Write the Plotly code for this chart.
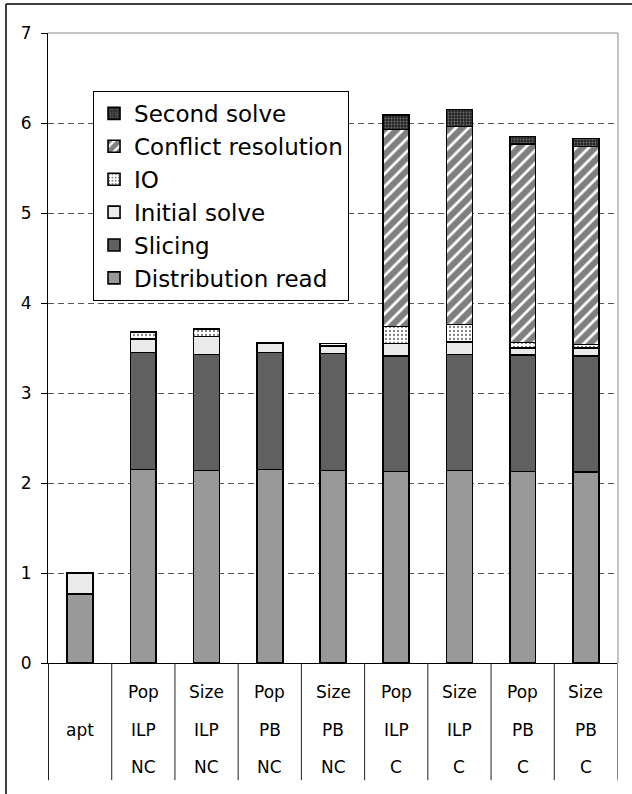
import plotly.graph_objects as go

categories = ["apt", "Pop ILP NC", "Size ILP NC", "Pop PB NC", "Size PB NC",
              "Pop ILP C", "Size ILP C", "Pop PB C", "Size PB C"]
label_row1 = ["", "Pop", "Size", "Pop", "Size", "Pop", "Size", "Pop", "Size"]
label_row2 = ["apt", "ILP", "ILP", "PB", "PB", "ILP", "ILP", "PB", "PB"]
label_row3 = ["", "NC", "NC", "NC", "NC", "C", "C", "C", "C"]

distribution_read = [0.77, 2.15, 2.14, 2.15, 2.14, 2.13, 2.14, 2.13, 2.12]
slicing = [0, 1.30, 1.29, 1.30, 1.30, 1.28, 1.29, 1.29, 1.29]
initial_solve = [0.23, 0.15, 0.20, 0.10, 0.08, 0.14, 0.14, 0.08, 0.09]
io = [0, 0.08, 0.08, 0.01, 0.03, 0.19, 0.19, 0.06, 0.04]
conflict_resolution = [0, 0, 0, 0, 0, 2.19, 2.20, 2.21, 2.20]
second_solve = [0, 0, 0, 0, 0, 0.16, 0.19, 0.08, 0.09]

y_ticks = [0, 1, 2, 3, 4, 5, 6, 7]

FONT = "DejaVu Sans"

series = [
    ("Distribution read", distribution_read, dict(color="#999999")),
    ("Slicing", slicing, dict(color="#606060")),
    ("Initial solve", initial_solve, dict(color="#eaeaea")),
    ("IO", io, dict(color="white",
                    pattern=dict(shape=".", fgcolor="black", bgcolor="white",
                                 size=4, solidity=0.25))),
    ("Conflict resolution", conflict_resolution,
     dict(color="white",
          pattern=dict(shape="/", fgcolor="black", bgcolor="white",
                       size=9, solidity=0.7))),
    ("Second solve", second_solve,
     dict(color="#333333",
          pattern=dict(shape=".", fgcolor="#bbbbbb", bgcolor="#262626",
                       size=3, solidity=0.3))),
]

fig = go.Figure()
for name, vals, mk in series:
    mk = dict(mk)
    mk["line"] = dict(color="black", width=1.6)
    fig.add_trace(go.Bar(x=categories, y=vals, name=name, marker=mk))

annotations = []
for rows, ypos in ((label_row1, -0.046), (label_row2, -0.1063), (label_row3, -0.165)):
    for cat, txt in zip(categories, rows):
        if txt:
            annotations.append(dict(x=cat, y=ypos, xref="x", yref="paper",
                                    text=txt, showarrow=False,
                                    font=dict(family=FONT, size=17, color="black"),
                                    xanchor="center", yanchor="middle"))

shapes = []
# category dividers below the axis
for i in range(len(categories) + 1):
    shapes.append(dict(type="line", xref="x", yref="paper",
                       x0=i - 0.5, x1=i - 0.5, y0=-0.186, y1=0,
                       line=dict(color="#222222" if i < len(categories) else "#888888", width=1)))
# plot area top and right (gray)
shapes.append(dict(type="line", xref="paper", yref="paper", x0=0, x1=1, y0=1, y1=1,
                   line=dict(color="#888888", width=1)))
shapes.append(dict(type="line", xref="paper", yref="paper", x0=1, x1=1, y0=0, y1=1,
                   line=dict(color="#888888", width=1)))
# outer chart frame: top and left edges
shapes.append(dict(type="line", xref="paper", yref="paper", x0=-0.0737, x1=1.03,
                   y0=1.046, y1=1.046, line=dict(color="black", width=1.5)))
shapes.append(dict(type="line", xref="paper", yref="paper", x0=-0.0737, x1=-0.0737,
                   y0=1.046, y1=-0.21, line=dict(color="black", width=1.5)))

fig.update_layout(
    width=632, height=794,
    margin=dict(l=48, r=14, t=33, b=131),
    paper_bgcolor="white", plot_bgcolor="white",
    barmode="stack", bargap=0.59,
    font=dict(family=FONT, size=17, color="black"),
    showlegend=True,
    legend=dict(x=0.079, y=0.908, xanchor="left", yanchor="top",
                traceorder="reversed",
                bgcolor="white", bordercolor="black", borderwidth=1,
                font=dict(family=FONT, size=23, color="black")),
    xaxis=dict(type="category", showticklabels=False, ticks="",
               showline=True, linecolor="black", linewidth=1,
               showgrid=False, zeroline=False, fixedrange=True),
    yaxis=dict(range=[0, 7], tickvals=y_ticks, ticks="outside", ticklen=6,
               tickcolor="black", showline=True, linecolor="black", linewidth=1,
               showgrid=True, gridcolor="#555555", griddash="6px,4px", gridwidth=1,
               zeroline=False, ticklabelstandoff=6,
               tickfont=dict(family=FONT, size=17, color="black")),
    annotations=annotations,
    shapes=shapes,
)

post = (
    "document.body.style.margin='0';"
    "document.body.style.overflow='hidden';"
)
fig.write_html("out.html", config={"displayModeBar": False}, post_script=post)
